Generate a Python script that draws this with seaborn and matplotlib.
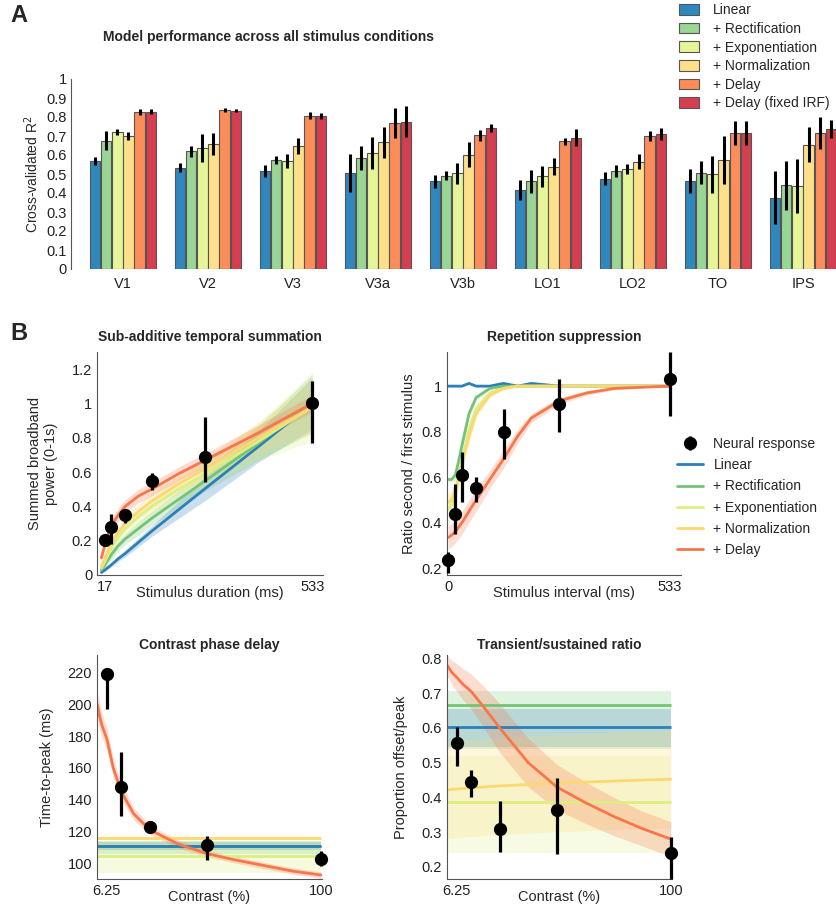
import numpy as np
import pandas as pd
import matplotlib
matplotlib.use("Agg")
import matplotlib.pyplot as plt
import seaborn as sns
from matplotlib.patches import Patch
from matplotlib.lines import Line2D
from matplotlib.ticker import FuncFormatter

# ---------------- Panel A data ----------------
areas = ["V1", "V2", "V3", "V3a", "V3b", "LO1", "LO2", "TO", "IPS"]
models = ["Linear", "+ Rectification", "+ Exponentiation", "+ Normalization",
          "+ Delay", "+ Delay (fixed IRF)"]
r2_linear = [0.567, 0.532, 0.515, 0.506, 0.462, 0.415, 0.475, 0.464, 0.376]
r2_rect = [0.674, 0.620, 0.574, 0.583, 0.492, 0.462, 0.515, 0.506, 0.441]
r2_exp = [0.722, 0.636, 0.567, 0.611, 0.503, 0.487, 0.527, 0.499, 0.438]
r2_norm = [0.699, 0.657, 0.648, 0.666, 0.602, 0.539, 0.564, 0.574, 0.655]
r2_delay = [0.827, 0.837, 0.807, 0.767, 0.704, 0.672, 0.700, 0.716, 0.716]
r2_fixed = [0.828, 0.832, 0.806, 0.776, 0.741, 0.692, 0.711, 0.716, 0.736]
err_linear = [0.020, 0.024, 0.030, 0.099, 0.035, 0.054, 0.035, 0.064, 0.141]
err_rect = [0.050, 0.030, 0.022, 0.063, 0.026, 0.060, 0.030, 0.061, 0.129]
err_exp = [0.016, 0.074, 0.038, 0.086, 0.057, 0.057, 0.026, 0.098, 0.143]
err_norm = [0.022, 0.058, 0.043, 0.084, 0.065, 0.044, 0.040, 0.125, 0.094]
err_delay = [0.014, 0.011, 0.017, 0.079, 0.028, 0.020, 0.026, 0.064, 0.083]
err_fixed = [0.012, 0.008, 0.017, 0.082, 0.020, 0.044, 0.033, 0.064, 0.048]
bar_colors = ["#2f87be", "#99d594", "#e6f598", "#fee08b", "#fc8d59", "#d53e4f"]
line_colors = ["#2c7fb8", "#74c476", "#dcef80", "#fdd870", "#f8764a"]

# ---------------- Panel B data ----------------
# Sub-additive temporal summation
dur_points = [17, 33, 67, 133, 267, 533]
sum_obs = [0.203, 0.28, 0.348, 0.55, 0.69, 1.0]
sum_lo = [0.18, 0.18, 0.306, 0.494, 0.54, 0.77]
sum_hi = [0.225, 0.355, 0.37, 0.594, 0.92, 1.13]
dur_grid = [8, 17, 25, 33, 50, 67, 100, 133, 200, 267, 400, 533]
sum_linear = [0.015, 0.03, 0.045, 0.06, 0.095, 0.125, 0.19, 0.255, 0.38, 0.505, 0.75, 1.0]
sum_rect = [0.03, 0.06, 0.09, 0.12, 0.17, 0.21, 0.27, 0.33, 0.44, 0.55, 0.77, 1.0]
sum_exp = [0.04, 0.08, 0.12, 0.16, 0.22, 0.27, 0.34, 0.40, 0.50, 0.59, 0.78, 0.98]
sum_norm = [0.05, 0.10, 0.15, 0.19, 0.25, 0.30, 0.37, 0.43, 0.53, 0.62, 0.80, 0.98]
sum_delay = [0.10, 0.18, 0.24, 0.29, 0.35, 0.40, 0.46, 0.50, 0.59, 0.67, 0.83, 1.0]
sum_hw_linear = [0.005, 0.01, 0.01, 0.012, 0.015, 0.02, 0.025, 0.03, 0.05, 0.07, 0.09, 0.15]
sum_hw_rect = [0.01, 0.02, 0.02, 0.03, 0.03, 0.03, 0.04, 0.04, 0.05, 0.06, 0.1, 0.17]
sum_hw_exp = [0.01, 0.02, 0.03, 0.03, 0.03, 0.04, 0.04, 0.05, 0.06, 0.07, 0.11, 0.2]
sum_hw_norm = [0.01, 0.02, 0.03, 0.03, 0.03, 0.04, 0.04, 0.05, 0.05, 0.06, 0.09, 0.15]
sum_hw_delay = [0.02, 0.03, 0.04, 0.04, 0.04, 0.04, 0.04, 0.04, 0.04, 0.04, 0.045, 0.05]

# Repetition suppression
isi_points = [0, 17, 33, 67, 133, 267, 533]
rep_obs = [0.236, 0.44, 0.61, 0.554, 0.80, 0.92, 1.03]
rep_lo = [0.18, 0.35, 0.49, 0.49, 0.68, 0.80, 0.87]
rep_hi = [0.27, 0.57, 0.71, 0.60, 0.90, 1.03, 1.15]
isi_grid = [0, 8, 17, 25, 33, 50, 67, 100, 133, 167, 200, 267, 333, 400, 533]
rep_linear = [1, 1, 1, 1, 1, 1.012, 1, 1, 1.012, 1, 1.012, 1, 1, 1, 1]
rep_rect = [0.59, 0.59, 0.61, 0.67, 0.74, 0.88, 0.95, 0.99, 1.0, 1, 1, 1, 1, 1, 1]
rep_exp = [0.46, 0.48, 0.53, 0.60, 0.67, 0.81, 0.90, 0.97, 0.99, 1, 1, 1, 1, 1, 1]
rep_norm = [0.49, 0.50, 0.54, 0.60, 0.66, 0.78, 0.88, 0.96, 0.99, 1, 1, 1, 1, 1, 1]
rep_delay = [0.335, 0.345, 0.36, 0.38, 0.40, 0.45, 0.50, 0.59, 0.68, 0.78, 0.86, 0.935, 0.97, 0.99, 1.0]
rep_hw_linear = [0.003] * 15
rep_hw_rect = [0.01, 0.01, 0.02, 0.03, 0.03, 0.02, 0.01, 0.005, 0, 0, 0, 0, 0, 0, 0]
rep_hw_exp = [0.06, 0.06, 0.05, 0.05, 0.04, 0.03, 0.02, 0.01, 0.005, 0, 0, 0, 0, 0, 0]
rep_hw_norm = [0.04, 0.04, 0.04, 0.04, 0.03, 0.03, 0.02, 0.01, 0.005, 0, 0, 0, 0, 0, 0]
rep_hw_delay = [0.05, 0.05, 0.05, 0.05, 0.05, 0.05, 0.05, 0.04, 0.04, 0.03, 0.02, 0.015, 0.01, 0.005, 0]

# Contrast phase delay
con_points = [6.25, 12.5, 25, 50, 100]
ttp_obs = [219.0, 148.0, 122.5, 111.6, 102.7]
ttp_lo = [197.0, 129.5, 120.5, 102.1, 97.9]
ttp_hi = [222.0, 170.0, 124.5, 117.3, 107.4]
con_grid = [2, 3, 4, 6.25, 9, 12.5, 18, 25, 37.5, 50, 62.5, 75, 87.5, 100]
ttp_delay = [200, 193, 187, 178, 160, 145, 131, 121, 112, 106, 102, 98.5, 95, 92.5]
ttp_hw_delay = [8, 8, 8, 7, 6, 5, 4, 3, 2.5, 2, 2, 2, 2, 2]
ttp_const = [111.0, 111.0, 104.5, 115.5]          # linear, rect, exp, norm
ttp_const_lo = [108.5, 106.0, 94.0, 114.5]
ttp_const_hi = [113.5, 114.0, 114.0, 116.5]

# Transient / sustained ratio
ts_obs = [0.557, 0.444, 0.31, 0.365, 0.241]
ts_lo = [0.49, 0.40, 0.243, 0.238, 0.165]
ts_hi = [0.603, 0.479, 0.39, 0.457, 0.286]
ts_const = [0.602, 0.665, 0.388]                   # linear, rect, exp
ts_const_lo = [0.545, 0.54, 0.24]
ts_const_hi = [0.655, 0.705, 0.52]
ts_norm = [0.421, 0.422, 0.423, 0.424, 0.426, 0.428, 0.43, 0.433, 0.437, 0.441, 0.444, 0.447, 0.45, 0.452]
ts_hw_norm = [0.14] * 14
ts_delay = [0.78, 0.77, 0.76, 0.745, 0.725, 0.705, 0.66, 0.60, 0.50, 0.43, 0.385, 0.345, 0.31, 0.28]
ts_hw_delay = [0.03, 0.03, 0.035, 0.04, 0.045, 0.05, 0.06, 0.07, 0.07, 0.065, 0.06, 0.055, 0.05, 0.05]

# ---------------- Styling ----------------
sns.set_theme(style="white")
plt.rcParams['font.family'] = ['Liberation Sans', 'DejaVu Sans']
plt.rcParams['font.size'] = 10
plt.rcParams['axes.edgecolor'] = '#555555'
plt.rcParams['axes.linewidth'] = 0.8
plt.rcParams['xtick.color'] = '#555555'
plt.rcParams['ytick.color'] = '#555555'
plt.rcParams['xtick.labelcolor'] = '#222222'
plt.rcParams['ytick.labelcolor'] = '#222222'

W, H = 837, 907
fig = plt.figure(figsize=(W / 100, H / 100), dpi=100)


def box(l, t, r, b):
    return [l / W, 1 - b / H, (r - l) / W, (b - t) / H]


fmt = FuncFormatter(lambda v, p: "%g" % round(v, 3))

# ---------------- Panel A ----------------
axA = fig.add_axes(box(71, 79, 837, 269))
rows = []
vals = [r2_linear, r2_rect, r2_exp, r2_norm, r2_delay, r2_fixed]
errs = [err_linear, err_rect, err_exp, err_norm, err_delay, err_fixed]
for m, v, e in zip(models, vals, errs):
    for a, vv, ee in zip(areas, v, e):
        rows.append(dict(area=a, model=m, r2=vv, err=ee))
dfA = pd.DataFrame(rows)
sns.barplot(data=dfA, x="area", y="r2", hue="model", order=areas, hue_order=models,
            palette=bar_colors, width=0.79, gap=0.06, edgecolor="#555555",
            linewidth=0.8, errorbar=None, ax=axA, legend=False, saturation=1)
bar_conts = list(axA.containers)
for cont, e in zip(bar_conts, errs):
    xs = [p.get_x() + p.get_width() / 2 for p in cont]
    hs = [p.get_height() for p in cont]
    axA.errorbar(xs, hs, yerr=e, fmt="none", ecolor="black", elinewidth=2.2, capsize=0, zorder=5)
axA.set_ylim(0, 1)
axA.set_xlim(-0.61, 8.40)
axA.set_yticks(np.arange(0, 1.01, 0.1))
axA.yaxis.set_major_formatter(fmt)
axA.set_xlabel("")
axA.set_ylabel("Cross-validated R$^2$", fontsize=10)
axA.tick_params(axis="y", direction="in", length=4, labelsize=10.5, pad=3)
axA.tick_params(axis="x", length=0, labelsize=10.5, pad=6)
sns.despine(ax=axA, bottom=True)

fig.text(10 / W, 1 - 16 / H, "A", fontsize=17, fontweight="bold", va="center", ha="left")
fig.text(103 / W, 1 - 37 / H, "Model performance across all stimulus conditions",
         fontsize=10, fontweight="bold", va="center", ha="left")
legA = [Patch(facecolor=c, edgecolor="#555555", linewidth=0.8, label=m) for c, m in zip(bar_colors, models)]
fig.legend(handles=legA, loc="upper left", bbox_to_anchor=(678 / W, 1 - 2 / H), frameon=False,
           fontsize=10, handlelength=1.4, handleheight=0.8, handletextpad=1.0,
           labelspacing=0.33, borderpad=0.1, borderaxespad=0)

fig.text(10 / W, 1 - 333 / H, "B", fontsize=17, fontweight="bold", va="center", ha="left")


def draw_curves(ax, grid, curves, hws, colors, names):
    rowsc = []
    for nm, cv in zip(names, curves):
        for xv, yv in zip(grid, cv):
            rowsc.append(dict(x=xv, y=yv, model=nm))
    for cv, hw, c in zip(curves, hws, colors):
        lo = [a - b for a, b in zip(cv, hw)]
        hi = [a + b for a, b in zip(cv, hw)]
        ax.fill_between(grid, lo, hi, color=c, alpha=0.25, linewidth=0)
    d = pd.DataFrame(rowsc)
    sns.lineplot(data=d, x="x", y="y", hue="model", hue_order=names,
                 palette=colors, linewidth=2, ax=ax, legend=False, sort=False)


def draw_obs(ax, xs, obs, lo, hi):
    yerr = [[o - l for o, l in zip(obs, lo)], [h - o for o, h in zip(obs, hi)]]
    return ax.errorbar(xs, obs, yerr=yerr, fmt="o", color="black", ms=8.5,
                       elinewidth=2.3, capsize=0, zorder=10, clip_on=False)


def style_b(ax):
    sns.despine(ax=ax)
    ax.tick_params(direction="in", length=3, labelsize=10.5)
    ax.yaxis.set_major_formatter(fmt)


names5 = models[:5]

# ---- B1 ----
ax1 = fig.add_axes(box(97, 352, 323, 575))
draw_curves(ax1, dur_grid,
            [sum_linear, sum_rect, sum_exp, sum_norm, sum_delay],
            [sum_hw_linear, sum_hw_rect, sum_hw_exp, sum_hw_norm, sum_hw_delay],
            line_colors, names5)
draw_obs(ax1, dur_points, sum_obs, sum_lo, sum_hi)
ax1.set_xlim(-3, 560)
ax1.set_ylim(0, 1.3)
ax1.set_yticks([0, 0.2, 0.4, 0.6, 0.8, 1.0, 1.2])
ax1.set_xticks(dur_points)
ax1.set_xticklabels(["17", "", "", "", "", "533"])
style_b(ax1)
ax1.set_xlabel("Stimulus duration (ms)", fontsize=10.5, labelpad=-6)
ax1.set_ylabel("Summed broadband\npower (0-1s)", fontsize=10.5, labelpad=10)
ax1.set_title("Sub-additive temporal summation", fontsize=10, fontweight="bold", pad=8)

# ---- B2 ----
ax2 = fig.add_axes(box(447, 352, 681, 575))
draw_curves(ax2, isi_grid,
            [rep_linear, rep_rect, rep_exp, rep_norm, rep_delay],
            [rep_hw_linear, rep_hw_rect, rep_hw_exp, rep_hw_norm, rep_hw_delay],
            line_colors, names5)
obs_h = draw_obs(ax2, isi_points, rep_obs, rep_lo, rep_hi)
ax2.set_xlim(-3, 560)
ax2.set_ylim(0.17, 1.15)
ax2.set_yticks([0.2, 0.4, 0.6, 0.8, 1.0])
ax2.set_xticks(isi_points)
ax2.set_xticklabels(["0", "", "", "", "", "", "533"])
style_b(ax2)
ax2.set_xlabel("Stimulus interval (ms)", fontsize=10.5, labelpad=-6)
ax2.set_ylabel("Ratio second / first stimulus", fontsize=10.5)
ax2.set_title("Repetition suppression", fontsize=10, fontweight="bold", pad=8)

legB = [obs_h] + [Line2D([], [], color=c, lw=2) for c in line_colors]
fig.legend(handles=legB, labels=["Neural response"] + names5, loc="upper left",
           bbox_to_anchor=(677 / W, 1 - 437 / H), frameon=False, fontsize=10,
           handlelength=1.9, handletextpad=0.72, labelspacing=0.52, borderpad=0, borderaxespad=0)

# ---- B3 ----
ax3 = fig.add_axes(box(97, 655, 322, 879))
x0, x1 = con_grid[0], con_grid[-1]
order = [1, 0, 2, 3]
for i in order:
    ax3.fill_between([x0, x1], [ttp_const_lo[i]] * 2, [ttp_const_hi[i]] * 2,
                     color=line_colors[i], alpha=0.25, linewidth=0)
for i in order:
    ax3.hlines(ttp_const[i], x0, x1, color=line_colors[i], lw=2)
draw_curves(ax3, con_grid, [ttp_delay], [ttp_hw_delay], [line_colors[4]], [names5[4]])
draw_obs(ax3, con_points, ttp_obs, ttp_lo, ttp_hi)
ax3.set_xlim(1.9, 100.5)
ax3.set_ylim(90, 231)
ax3.set_yticks([100, 120, 140, 160, 180, 200, 220])
ax3.set_xticks(con_points)
ax3.set_xticklabels(["6.25", "", "", "", "100"])
style_b(ax3)
ax3.set_xlabel("Contrast (%)", fontsize=10.5, labelpad=-6)
ax3.set_ylabel("Time-to-peak (ms)", fontsize=10.5, labelpad=10)
ax3.set_title("Contrast phase delay", fontsize=10, fontweight="bold", pad=4)

# ---- B4 ----
ax4 = fig.add_axes(box(447, 655, 672, 879))
for i in [1, 0, 2]:
    ax4.fill_between([x0, x1], [ts_const_lo[i]] * 2, [ts_const_hi[i]] * 2,
                     color=line_colors[i], alpha=0.22, linewidth=0)
norm_lo = [a - b for a, b in zip(ts_norm, ts_hw_norm)]
norm_hi = [a + b for a, b in zip(ts_norm, ts_hw_norm)]
ax4.fill_between(con_grid, norm_lo, norm_hi, color=line_colors[3], alpha=0.22, linewidth=0)
for i in [1, 0, 2]:
    ax4.hlines(ts_const[i], x0, x1, color=line_colors[i], lw=2)
sns.lineplot(x=con_grid, y=ts_norm, color=line_colors[3], lw=2, ax=ax4)
draw_curves(ax4, con_grid, [ts_delay], [ts_hw_delay], [line_colors[4]], [names5[4]])
draw_obs(ax4, con_points, ts_obs, ts_lo, ts_hi)
ax4.set_xlim(1.9, 100.5)
ax4.set_ylim(0.165, 0.81)
ax4.set_yticks([0.2, 0.3, 0.4, 0.5, 0.6, 0.7, 0.8])
ax4.set_xticks(con_points)
ax4.set_xticklabels(["6.25", "", "", "", "100"])
style_b(ax4)
ax4.set_xlabel("Contrast (%)", fontsize=10.5, labelpad=-6)
ax4.set_ylabel("Proportion offset/peak", fontsize=10.5, labelpad=10)
ax4.set_title("Transient/sustained ratio", fontsize=10, fontweight="bold", pad=4)

fig.savefig("out.png", dpi=100)
